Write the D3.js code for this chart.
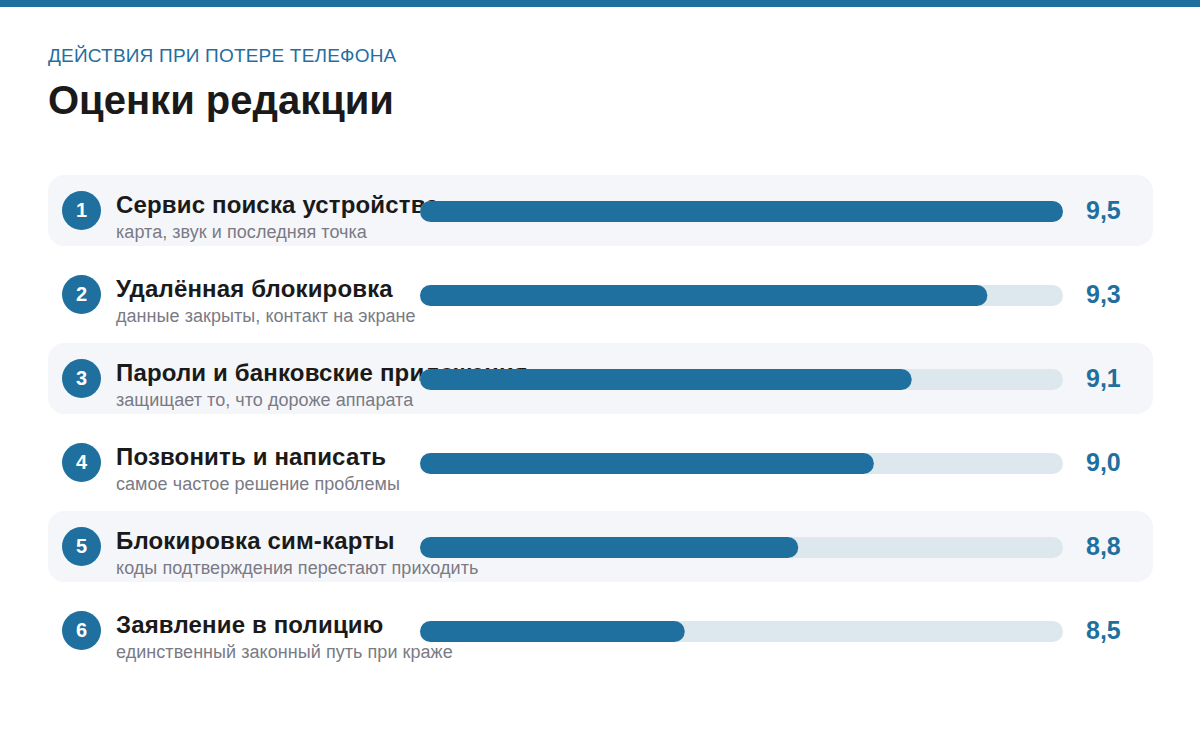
<!DOCTYPE html>
<html><head><meta charset="utf-8">
<script src="https://cdn.jsdelivr.net/npm/d3@7/dist/d3.min.js"></script>
<style>html,body{margin:0;padding:0;background:#fff}svg{display:block}text{font-family:"Liberation Sans",Arial,sans-serif}</style>
</head><body><div id="c"></div>
<script>
const ranks=["1","2","3","4","5","6"];
const names=["Сервис поиска устройства","Удалённая блокировка","Пароли и банковские приложения","Позвонить и написать","Блокировка сим-карты","Заявление в полицию"];
const notes=["карта, звук и последняя точка","данные закрыты, контакт на экране","защищает то, что дороже аппарата","самое частое решение проблемы","коды подтверждения перестают приходить","единственный законный путь при краже"];
const scores=[9.5,9.3,9.1,9.0,8.8,8.5];
const kicker="ДЕЙСТВИЯ ПРИ ПОТЕРЕ ТЕЛЕФОНА", heading="Оценки редакции";
const blue="#1f6f9f";
const rows=ranks.map((r,i)=>({r,name:names[i],note:notes[i],v:scores[i],i}));
const svg=d3.select("#c").append("svg").attr("width",1200).attr("height",731);
svg.append("rect").attr("width",1200).attr("height",7).attr("fill",blue);
svg.append("text").attr("x",48).attr("y",62).attr("font-size",19).attr("letter-spacing",0.2).attr("fill",blue).text(kicker);
svg.append("text").attr("x",48).attr("y",114).attr("font-size",40).attr("font-weight",700).attr("fill","#1a1a1a").text(heading);
const x=d3.scaleLinear().domain([7.8,9.5]).range([420,1063]);
const y=d3.scalePoint().domain(ranks).range([210.5,630.5]);
const g=svg.selectAll("g.row").data(rows).join("g").attr("class","row").attr("transform",d=>`translate(0,${y(d.r)})`);
g.filter(d=>d.i%2==0).append("rect").attr("x",48).attr("y",-35.5).attr("width",1105).attr("height",71).attr("rx",16).attr("fill","#f5f6f9");
g.append("circle").attr("cx",81.5).attr("r",19.5).attr("fill",blue);
g.append("text").attr("x",81.5).attr("y",6.5).attr("text-anchor","middle").attr("font-size",20).attr("font-weight",700).attr("fill","#fff").text(d=>d.r);
g.append("text").attr("x",116).attr("y",2.5).attr("font-size",24).attr("letter-spacing",0.16).attr("font-weight",700).attr("fill","#1a1a1a").text(d=>d.name);
g.append("text").attr("x",116).attr("y",27).attr("font-size",18).attr("letter-spacing",0.05).attr("fill","#7a7a85").text(d=>d.note);
g.append("rect").attr("x",420).attr("y",-9.5).attr("width",643).attr("height",21).attr("rx",10.5).attr("fill","#dce7ee");
g.append("rect").attr("x",420).attr("y",-9.5).attr("width",d=>x(d.v)-420).attr("height",21).attr("rx",10.5).attr("fill",blue);
g.append("text").attr("x",1086).attr("y",8).attr("font-size",25).attr("font-weight",700).attr("fill",blue).text(d=>d.v.toFixed(1).replace(".",","));
</script></body></html>
